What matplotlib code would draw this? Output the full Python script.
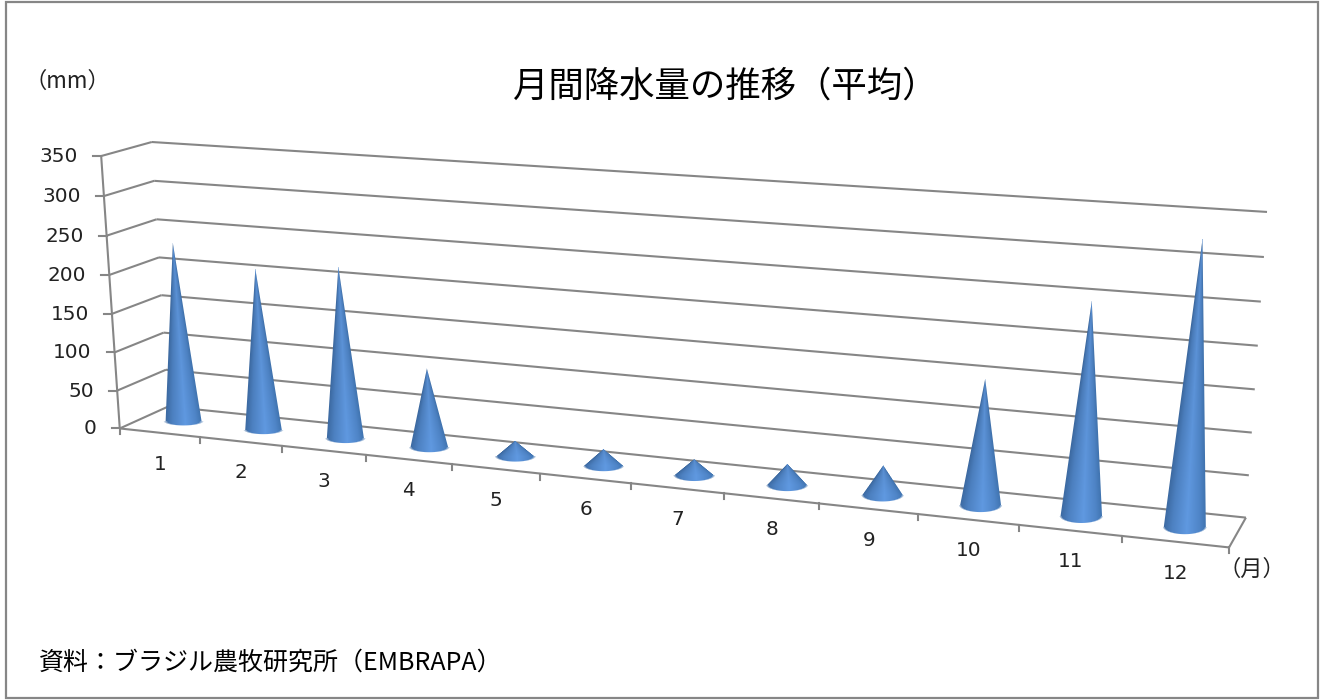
import numpy as np
import matplotlib
matplotlib.use("Agg")
import matplotlib.pyplot as plt
from matplotlib.patches import Rectangle

plt.rcParams['font.family'] = ['Noto Sans CJK JP', 'DejaVu Sans']

months = ['1', '2', '3', '4', '5', '6', '7', '8', '9', '10', '11', '12']
rain_mm = [234, 209, 220, 101, 20, 21, 20, 26, 36, 150, 249, 327]
y_ticks = [0, 50, 100, 150, 200, 250, 300, 350]

title = '月間降水量の推移（平均）'
unit_y = '（mm）'
unit_x = '（月）'
source = '資料：ブラジル農牧研究所（EMBRAPA）'

GRID = '#868686'
TEXT = '#222222'

# corners of the 3d box: (month, value, depth) and where they land on the canvas
box_world = [(0, 0, 0), (12, 0, 0), (0, 350, 0), (0, 0, 1),
             (12, 0, 1), (0, 350, 1), (12, 350, 1)]
box_canvas = [(120, 428), (1229, 548), (101, 156), (168, 407),
              (1246, 517), (152, 142), (1267, 212)]


def fit_camera(world, canvas):
    rows = []
    for (a, b, c), (px, py) in zip(world, canvas):
        # values are scaled down so the system stays well conditioned
        p = [a / 12, b / 350, c, 1]
        rows.append(p + [0, 0, 0, 0] + [-px * v for v in p])
        rows.append([0, 0, 0, 0] + p + [-py * v for v in p])
    # 14 equations, 12 unknowns; smallest singular vector is the camera
    _, _, vt = np.linalg.svd(np.array(rows, dtype=float))
    return vt[-1].reshape(3, 4)


camera = fit_camera(box_world, box_canvas)


def project(month, value, depth):
    h = camera @ np.array([month / 12, value / 350, depth, 1.0])
    return h[0] / h[2], h[1] / h[2]


def line3d(ax, a, b):
    p, q = project(*a), project(*b)
    ax.plot([p[0], q[0]], [p[1], q[1]], color=GRID, lw=1.5,
            solid_capstyle='butt', zorder=1)


def draw_cone(ax, base, apex, rx, ry):
    cx, cy = base
    ax_, ay = apex
    x0, x1 = int(min(cx - rx, ax_)) - 2, int(max(cx + rx, ax_)) + 3
    y0, y1 = int(ay) - 2, int(cy + ry) + 3
    xs, ys = np.meshgrid(np.arange(x0, x1) + 0.5, np.arange(y0, y1) + 0.5)

    f = np.clip((ys - ay) / (cy - ay), 0, 1)
    xc = ax_ + (cx - ax_) * f
    half = rx * f

    # side silhouette, soft over one pixel
    side = np.clip(half - np.abs(xs - xc) + 0.5, 0, 1) * (ys >= ay)
    # rounded bottom from the base ellipse
    r = np.sqrt(((xs - cx) / rx) ** 2 + ((ys - cy) / ry) ** 2)
    bottom = np.clip((1 - r) * ry + 0.5, 0, 1)
    alpha = np.where(ys > cy, np.maximum(bottom, 0), side)

    # shading runs around the cone: dark rims, light stripe just right of centre
    t = np.clip((xs - xc) / np.maximum(half, 0.5), -1, 1)
    stops = [-1.0, -0.6, 0.1, 0.7, 1.0]
    red = [0x3A, 0x4A, 0x5C, 0x4C, 0x3E]
    green = [0x66, 0x7C, 0x93, 0x80, 0x70]
    blue = [0x9C, 0xBA, 0xD8, 0xC0, 0xAA]
    rgb = np.dstack([np.interp(t, stops, c) for c in (red, green, blue)]) / 255
    # a little lighter towards the base
    rgb = np.clip(rgb * (0.96 + 0.08 * f[..., None]), 0, 1)

    img = np.dstack([rgb, alpha])
    ax.imshow(img, extent=(x0, x1, y1, y0), origin='upper', aspect='auto',
              interpolation='nearest', zorder=3)


fig = plt.figure(figsize=(13.2, 7), dpi=100, facecolor='white')
ax = fig.add_axes([0, 0, 1, 1])

# outer chart border
ax.add_patch(Rectangle((6, 1.5), 1312, 696.5, fill=False, edgecolor=GRID, lw=1.6, zorder=1))

# side wall and back wall gridlines
for v in y_ticks:
    line3d(ax, (0, v, 0), (0, v, 1))
    line3d(ax, (0, v, 1), (12, v, 1))
    px, py = project(0, v, 0)
    ax.plot([px - 8, px], [py, py], color=GRID, lw=1.5, zorder=1)
    ax.text(px - 23, py + 0.5, str(v), ha='right', va='center', fontsize=14.4,
            color=TEXT, family='DejaVu Sans')

# axis lines and the floor
line3d(ax, (0, 0, 0), (0, 350, 0))
line3d(ax, (0, 0, 0), (12, 0, 0))
line3d(ax, (12, 0, 0), (12, 0, 1))

for i in range(len(months) + 1):
    px, py = project(i, 0, 0)
    ax.plot([px, px], [py, py + 6], color=GRID, lw=1.5, zorder=1)

rx_list = np.linspace(18, 21, len(months))
ry_list = np.linspace(4, 7.5, len(months))

for i, (m, val) in enumerate(zip(months, rain_mm)):
    base = project(i + 0.5, 0, 0.5)
    apex = project(i + 0.5, val, 0.5)
    draw_cone(ax, base, apex, rx_list[i], ry_list[i])
    px, py = project(i + 0.5, 0, 0)
    ax.text(px + 0.5, py + 31.5, m, ha='center', va='center', fontsize=14.4,
            color=TEXT, family='DejaVu Sans')

ax.text(725, 87, title, ha='center', va='center', fontsize=25.5, color='black')
ax.text(67, 81, unit_y, ha='center', va='center', fontsize=16, color=TEXT)
ax.text(1252, 569, unit_x, ha='center', va='center', fontsize=16, color=TEXT)
ax.text(39, 663, source, ha='left', va='center', fontsize=18, color='black')

ax.set_xlim(0, 1320)
ax.set_ylim(700, 0)
ax.set_axis_off()

fig.savefig('out.png', dpi=100, facecolor='white')
